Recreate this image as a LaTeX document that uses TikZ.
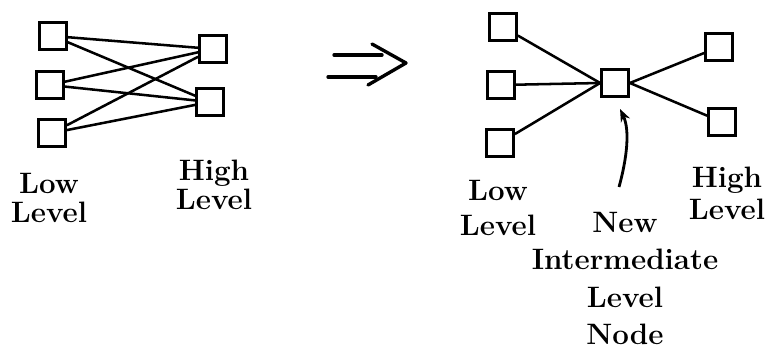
\documentclass[tikz,border=0pt]{standalone}
\usepackage{fontspec}
\usepackage{tikz}
\usetikzlibrary{arrows.meta}

\begin{document}
\begin{tikzpicture}
[x=0.025cm,y=-0.025cm,
unit/.style={rectangle,draw=black,line width=2.4pt,inner sep=0pt,minimum size=0.66cm},
link/.style={draw=black,line width=1.8pt},
lbl/.style={font=\bfseries\fontsize{21}{20.5}\selectfont,align=center,inner sep=0pt,anchor=north}]

\useasboundingbox (0,0) rectangle (766,352);

\node at (53,36)   [unit] (lowa)  {};
\node at (50,85)   [unit] (lowb)  {};
\node at (52,133)  [unit] (lowc)  {};
\node at (213,49)  [unit] (higha) {};
\node at (210,102) [unit] (highb) {};
\foreach \l in {lowa,lowb,lowc}
  \foreach \h in {higha,highb}
    \draw [link] (\l) -- (\h);

\node at (49,173)  [lbl] (lowtxt)  {Low\\Level};
\node at (214,160) [lbl] (hightxt) {High\\Level};

\coordinate (ua) at (334,55);
\coordinate (ub) at (382,55);
\coordinate (la) at (328,77);
\coordinate (lb) at (376,77);
\coordinate (ca) at (372,44);
\coordinate (cb) at (406,63);
\coordinate (cc) at (368,85);
\draw [line width=2.4pt,line cap=round] (ua) -- (ub) (la) -- (lb);
\draw [line width=2.4pt,line cap=round,line join=round] (ca) -- (cb) -- (cc);

\node at (503,27)  [unit] (nlowa)  {};
\node at (501,85)  [unit] (nlowb)  {};
\node at (500,143) [unit] (nlowc)  {};
\node at (615,83)  [unit] (mid)    {};
\node at (719,47)  [unit] (nhigha) {};
\node at (722,122) [unit] (nhighb) {};
\foreach \l in {nlowa,nlowb,nlowc}
  \draw [link] (\l) -- (mid.west);
\foreach \h in {nhigha,nhighb}
  \draw [link] (mid.east) -- (\h);

\node at (498,180) [lbl,font=\bfseries\fontsize{21}{25}\selectfont] (nlowtxt)  {Low\\Level};
\node at (727,167) [lbl,font=\bfseries\fontsize{21}{22.5}\selectfont] (nhightxt) {High\\Level};
\node at (625,212) [lbl,font=\bfseries\fontsize{21}{26.5}\selectfont] (midtxt)   {New\\Intermediate\\Level\\Node};

\coordinate (tail) at (619,187);
\coordinate (tip)  at (620,109);
\draw [line width=2pt,-{Stealth[length=9pt,width=7pt]}] (tail) .. controls (627,158) and (630,130) .. (tip);
\end{tikzpicture}
\end{document}
